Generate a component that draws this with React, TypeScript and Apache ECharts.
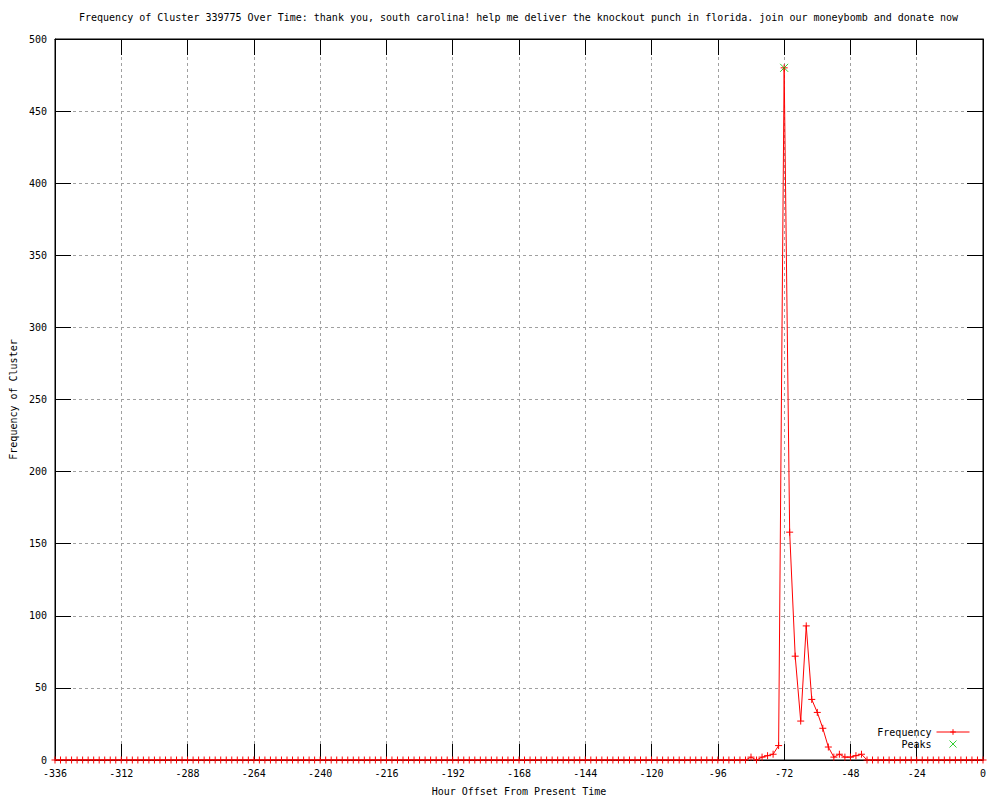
import React, { useEffect, useRef } from "react";
import * as echarts from "echarts";

const TITLE =
  "Frequency of Cluster 339775 Over Time: thank you, south carolina! help me deliver the knockout punch in florida. join our moneybomb and donate now";
const X_NAME = "Hour Offset From Present Time";
const Y_NAME = "Frequency of Cluster";

const hours = [
  -336, -334, -332, -330, -328, -326, -324, -322, -320, -318, -316, -314, -312, -310, -308, -306, -304, -302, -300, -298,
  -296, -294, -292, -290, -288, -286, -284, -282, -280, -278, -276, -274, -272, -270, -268, -266, -264, -262, -260, -258,
  -256, -254, -252, -250, -248, -246, -244, -242, -240, -238, -236, -234, -232, -230, -228, -226, -224, -222, -220, -218,
  -216, -214, -212, -210, -208, -206, -204, -202, -200, -198, -196, -194, -192, -190, -188, -186, -184, -182, -180, -178,
  -176, -174, -172, -170, -168, -166, -164, -162, -160, -158, -156, -154, -152, -150, -148, -146, -144, -142, -140, -138,
  -136, -134, -132, -130, -128, -126, -124, -122, -120, -118, -116, -114, -112, -110, -108, -106, -104, -102, -100, -98,
  -96, -94, -92, -90, -88, -86, -84, -82, -80, -78, -76, -74, -72, -70, -68, -66, -64, -62, -60, -58,
  -56, -54, -52, -50, -48, -46, -44, -42, -40, -38, -36, -34, -32, -30, -28, -26, -24, -22, -20, -18,
  -16, -14, -12, -10, -8, -6, -4, -2, 0,
];

const frequency = [
  0, 0, 0, 0, 0, 0, 0, 0, 0, 0, 0, 0, 0, 0, 0, 0, 0, 0, 0, 0,
  0, 0, 0, 0, 0, 0, 0, 0, 0, 0, 0, 0, 0, 0, 0, 0, 0, 0, 0, 0,
  0, 0, 0, 0, 0, 0, 0, 0, 0, 0, 0, 0, 0, 0, 0, 0, 0, 0, 0, 0,
  0, 0, 0, 0, 0, 0, 0, 0, 0, 0, 0, 0, 0, 0, 0, 0, 0, 0, 0, 0,
  0, 0, 0, 0, 0, 0, 0, 0, 0, 0, 0, 0, 0, 0, 0, 0, 0, 0, 0, 0,
  0, 0, 0, 0, 0, 0, 0, 0, 0, 0, 0, 0, 0, 0, 0, 0, 0, 0, 0, 0,
  0, 0, 0, 0, 0, 0, 2, 0, 2, 3, 4, 10, 480, 158, 72, 27, 93, 42, 33, 22,
  9, 2, 4, 2, 2, 3, 4, 0, 0, 0, 0, 0, 0, 0, 0, 0, 0, 0, 0, 0,
  0, 0, 0, 0, 0, 0, 0, 0, 0,
];

const peakHours = [-72];
const peakValues = [480];

const MONO = "'DejaVu Sans Mono', monospace";
const PLUS = "path://M0,5L10,5M5,0L5,10";
const CROSS = "path://M0,0L10,10M10,0L0,10";
const RED = "#ff0000";
const GREEN = "#00c000";

export default function App() {
  const ref = useRef<HTMLDivElement>(null);

  useEffect(() => {
    if (!ref.current) return;
    const chart = echarts.init(ref.current, null, { renderer: "svg" });

    const tickCommon = {
      show: true,
      inside: true,
      length: 16,
      lineStyle: { color: "#000", width: 1 },
    };
    const lineCommon = { show: true, onZero: false, lineStyle: { color: "#000", width: 1 } };
    const labelStyle = { color: "#000", fontSize: 10, fontFamily: MONO };
    const splitStyle = { show: true, lineStyle: { color: "#a0a0a0", width: 1, type: [3, 3] } };

    const option: any = {
      animation: false,
      backgroundColor: "#ffffff",
      textStyle: { fontFamily: MONO },
      title: {
        text: TITLE,
        left: 79,
        top: 12,
        padding: 0,
        textStyle: { fontFamily: MONO, fontSize: 10, fontWeight: "normal", color: "#000" },
      },
      legend: {
        orient: "vertical",
        right: 30,
        top: 727,
        align: "right",
        padding: 0,
        itemWidth: 33,
        itemHeight: 7,
        itemGap: 2,
        symbolKeepAspect: true,
        lineStyle: { width: 1 },
        textStyle: { fontFamily: MONO, fontSize: 10, color: "#000" },
        data: [
          { name: "Frequency", itemStyle: { color: RED, borderColor: RED, borderWidth: 1 }, lineStyle: { width: 1, color: RED } },
          { name: "Peaks", icon: CROSS, itemStyle: { color: GREEN, borderColor: GREEN, borderWidth: 1 } },
        ],
      },
      grid: {
        left: 55,
        right: 17,
        top: 39,
        bottom: 40,
        outerBoundsMode: "none",
        containLabel: false,
        show: true,
        borderColor: "#000",
        borderWidth: 1,
        backgroundColor: "transparent",
      },
      xAxis: [
        {
          type: "value",
          min: -336,
          max: 0,
          interval: 24,
          position: "bottom",
          name: X_NAME,
          nameLocation: "middle",
          nameGap: 26,
          nameTextStyle: labelStyle,
          axisLine: lineCommon,
          axisTick: tickCommon,
          axisLabel: { ...labelStyle, margin: 8 },
          splitLine: splitStyle,
        },
        {
          type: "value",
          min: -336,
          max: 0,
          interval: 24,
          position: "top",
          axisLine: lineCommon,
          axisTick: tickCommon,
          axisLabel: { show: false },
          splitLine: { show: false },
        },
      ],
      yAxis: [
        {
          type: "value",
          min: 0,
          max: 500,
          interval: 50,
          position: "left",
          name: Y_NAME,
          nameLocation: "middle",
          nameGap: 37,
          nameTextStyle: labelStyle,
          axisLine: lineCommon,
          axisTick: tickCommon,
          axisLabel: { ...labelStyle, margin: 8 },
          splitLine: splitStyle,
        },
        {
          type: "value",
          min: 0,
          max: 500,
          interval: 50,
          position: "right",
          axisLine: lineCommon,
          axisTick: tickCommon,
          axisLabel: { show: false },
          splitLine: { show: false },
        },
      ],
      series: [
        {
          name: "Frequency",
          type: "line",
          data: hours.map((h, i) => [h, frequency[i]]),
          symbol: PLUS,
          symbolSize: 7,
          showAllSymbol: true,
          itemStyle: { color: RED, borderColor: RED, borderWidth: 1 },
          lineStyle: { color: RED, width: 1 },
          z: 3,
        },
        {
          name: "Peaks",
          type: "scatter",
          data: peakHours.map((h, i) => [h, peakValues[i]]),
          symbol: CROSS,
          symbolSize: 8,
          itemStyle: { color: GREEN, borderColor: GREEN, borderWidth: 1 },
          z: 4,
        },
      ],
    };

    chart.setOption(option);
    return () => chart.dispose();
  }, []);

  return (
    <div
      ref={ref}
      style={{ position: "fixed", left: 0, top: 0, width: 1000, height: 800, background: "#fff" }}
    />
  );
}
